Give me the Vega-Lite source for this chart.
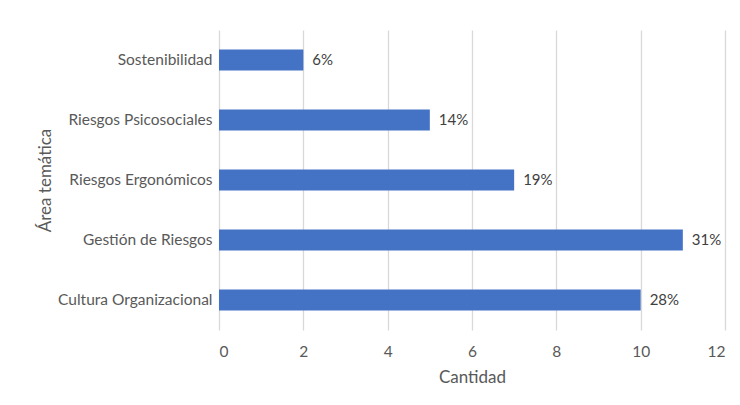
{
  "$schema": "https://vega.github.io/schema/vega-lite/v6.json",
  "width": 506,
  "height": 300,
  "autosize": {"type": "none"},
  "padding": {"left": 219, "top": 30, "right": 15, "bottom": 75},
  "background": "white",
  "config": {
    "view": {"stroke": null},
    "font": "Lato",
    "axis": {"labelColor": "#595959", "titleColor": "#595959", "labelFontSize": 15.5, "titleFontSize": 16, "titleFontWeight": "normal", "labelFont": "Lato", "titleFont": "Lato"}
  },
  "data": {
    "values": [
      {"area": "Sostenibilidad", "cantidad": 2, "pct": "6%"},
      {"area": "Riesgos Psicosociales", "cantidad": 5, "pct": "14%"},
      {"area": "Riesgos Ergonómicos", "cantidad": 7, "pct": "19%"},
      {"area": "Gestión de Riesgos", "cantidad": 11, "pct": "31%"},
      {"area": "Cultura Organizacional", "cantidad": 10, "pct": "28%"}
    ]
  },
  "encoding": {
    "y": {
      "field": "area", "type": "nominal", "sort": null,
      "scale": {"paddingInner": 0.65, "paddingOuter": 0.325},
      "axis": {"title": "Área temática", "domain": false, "ticks": false, "labelPadding": 7, "titleX": -165, "titleFontSize": 17}
    },
    "x": {
      "field": "cantidad", "type": "quantitative",
      "scale": {"domain": [0, 12]},
      "axis": {"title": "Cantidad", "titleFontSize": 17, "values": [0, 2, 4, 6, 8, 10, 12], "domain": false, "ticks": false, "grid": true, "gridColor": "#d9d9d9", "gridWidth": 1.3, "labelPadding": 14, "titlePadding": 10}
    }
  },
  "layer": [
    {"mark": {"type": "bar", "color": "#4472C4"}},
    {"mark": {"type": "text", "align": "left", "dx": 9, "fontSize": 15, "color": "#404040", "font": "Lato"}, "encoding": {"text": {"field": "pct"}}}
  ]
}
